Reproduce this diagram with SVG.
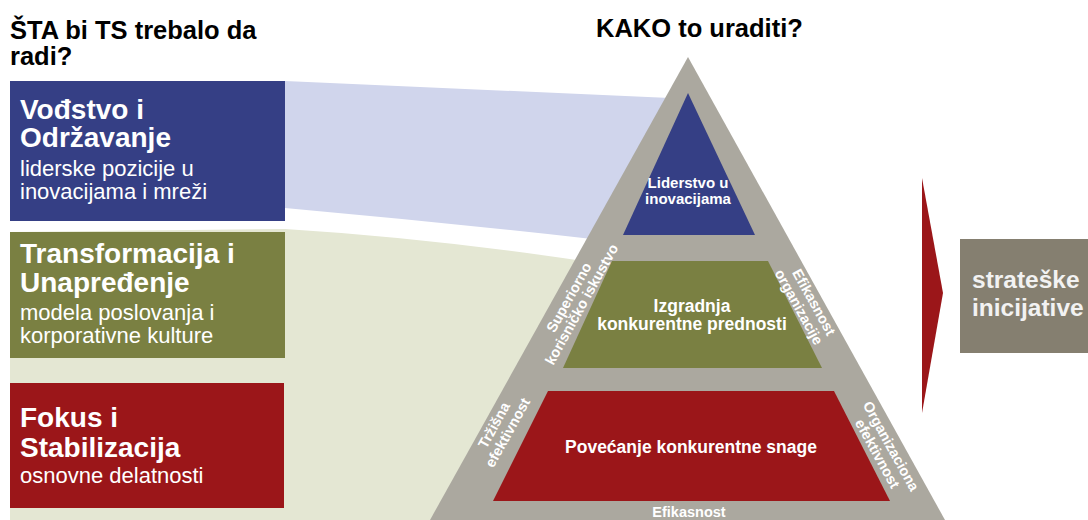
<svg xmlns="http://www.w3.org/2000/svg" width="1088" height="520" viewBox="0 0 1088 520">
<style>
text{font-family:"Liberation Sans",Arial,Helvetica,sans-serif;}
.hd{font-size:25.5px;font-weight:bold;fill:#000;}
.bt{font-size:28px;font-weight:bold;fill:#fff;}
.bs{font-size:22px;fill:#fff;}
.pt{font-weight:bold;fill:#fff;text-anchor:middle;}
.sl{font-size:14.5px;font-weight:bold;fill:#fff;text-anchor:middle;}
</style>
<rect width="1088" height="520" fill="#fff"/>
<g id="connectors">
  <path d="M10,232 L285,229 Q430,238 590,262 L450,520 L10,520 Z" fill="#E4E7D3"/>
  <path d="M285,81 L670,98 L592,239 Q440,222 285,208 Z" fill="#D0D5EC"/>
  <polygon points="922,178 943,293 922,413" fill="#9B1619"/>
</g>
<g id="headings">
  <text class="hd" x="10" y="39">ŠTA bi TS trebalo da</text>
  <text class="hd" x="10" y="65">radi?</text>
  <text class="hd" x="596" y="37">KAKO to uraditi?</text>
</g>
<g id="box-vodstvo">
  <rect x="10" y="81" width="275" height="140" fill="#353F85"/>
  <text class="bt" x="20" y="119">Vođstvo i</text>
  <text class="bt" x="20" y="147">Održavanje</text>
  <text class="bs" x="20" y="176">liderske pozicije u</text>
  <text class="bs" x="20" y="199">inovacijama i mreži</text>
</g>
<g id="box-transformacija">
  <rect x="10" y="232" width="275" height="126" fill="#7A8042"/>
  <text class="bt" x="20" y="263">Transformacija i</text>
  <text class="bt" x="20" y="292">Unapređenje</text>
  <text class="bs" x="20" y="320">modela poslovanja i</text>
  <text class="bs" x="20" y="343">korporativne kulture</text>
</g>
<g id="box-fokus">
  <rect x="10" y="383" width="274" height="125" fill="#9B1619"/>
  <text class="bt" x="20" y="427">Fokus i</text>
  <text class="bt" x="20" y="457">Stabilizacija</text>
  <text class="bs" x="20" y="483">osnovne delatnosti</text>
</g>
<g id="pyramid">
  <polygon points="688,57 430,520 945,520" fill="#ABA89F"/>
</g>
<g id="level-liderstvo">
  <polygon points="688,93 623,235 755,235" fill="#353F85"/>
  <text class="pt" x="688" y="188" font-size="15">Liderstvo u</text>
  <text class="pt" x="688" y="204" font-size="15">inovacijama</text>
</g>
<g id="level-izgradnja">
  <polygon points="612,261 768,261 822,368 563,368" fill="#7A8042"/>
  <text class="pt" x="692" y="312" font-size="17.5">Izgradnja</text>
  <text class="pt" x="692" y="330" font-size="17.5">konkurentne prednosti</text>
</g>
<g id="level-povecanje">
  <polygon points="548,391 834,391 890,501 493,501" fill="#9B1619"/>
  <text class="pt" x="691" y="453" font-size="17.5">Povećanje konkurentne snage</text>
</g>
<g id="side-labels">
  <text class="sl" x="689" y="517">Efikasnost</text>
  <g transform="translate(575.5,301) rotate(-61)">
    <text class="sl" x="0" y="-2.5">Superiorno</text>
    <text class="sl" x="0" y="12">korisničko iskustvo</text>
  </g>
  <g transform="translate(501,429) rotate(-61)">
    <text class="sl" x="0" y="-3">Tržišna</text>
    <text class="sl" x="0" y="12.5">efektivnost</text>
  </g>
  <g transform="translate(807,306) rotate(61)">
    <text class="sl" x="0" y="-3">Efikasnost</text>
    <text class="sl" x="-3" y="12.5">organizacije</text>
  </g>
  <g transform="translate(884,450) rotate(61)">
    <text class="sl" x="0" y="-3">Organizaciona</text>
    <text class="sl" x="0" y="12.5">efektivnost</text>
  </g>
</g>
<g id="box-strateske">
  <rect x="960" y="239" width="140" height="114" fill="#857F70"/>
  <text x="972" y="288" font-size="24.5" font-weight="bold" fill="#F2F2F2">strateške</text>
  <text x="972" y="316" font-size="24.5" font-weight="bold" fill="#F2F2F2">inicijative</text>
</g>
</svg>
